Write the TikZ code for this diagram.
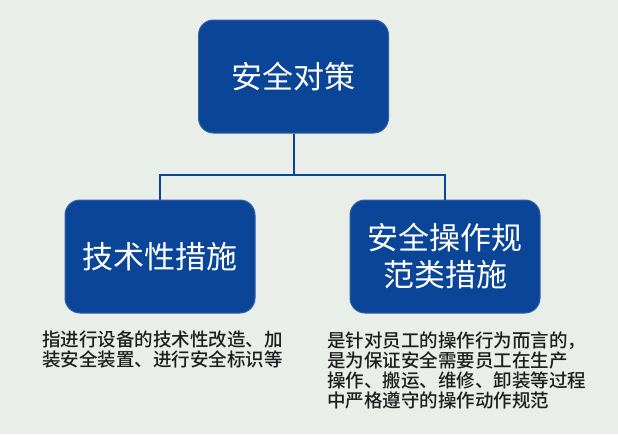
\documentclass[tikz,border=0pt]{standalone}
\usepackage{fontspec}
\newfontfamily\cjk{Noto Sans CJK SC}
\newfontfamily\cjkmed{Noto Sans CJK SC Medium}
\usepackage{xcolor}
\usetikzlibrary{positioning}

\definecolor{bgcol}{HTML}{E9EEE9}
\definecolor{boxcol}{HTML}{0B4597}
\definecolor{txtcol}{HTML}{1E1E1E}

\tikzset{
  box/.style={draw=boxcol!85!white, fill=boxcol, line width=1pt, rounded corners=15pt,
    minimum width=190pt, minimum height=113pt, align=center, text=white,
    font=\cjk\fontsize{31}{37}\selectfont},
  note/.style={anchor=north west, inner sep=0pt, align=left, text=txtcol,
    font=\cjkmed\fontsize{18.5}{20}\selectfont},
  link/.style={draw=boxcol, line width=2pt}
}

\begin{document}
\begin{tikzpicture}[x=1pt, y=-1pt]
    \fill[bgcol] (0,0) rectangle (618,434);
    \useasboundingbox (0,0) rectangle (618,434);

    \node[box] (top) at (293.5,76.5) {安全对策};
    \node[box] (tech) at (160,256.5) {技术性措施};
    \node[box] (rule) at (445,256.5) {安全操作规\\范类措施};

    \coordinate (split) at (293.5,175);

    \path[link]
    (top.south) -- (split)
    (split) -| (tech.north)
    (split) -| (rule.north);

    \node[note] (technote) at (42,331) {指进行设备的技术性改造、加\\装安全装置、进行安全标识等};
    \node[note] (rulenote) at (327,332) {是针对员工的操作行为而言的，\\是为保证安全需要员工在生产\\操作、搬运、维修、卸装等过程\\中严格遵守的操作动作规范};
\end{tikzpicture}
\end{document}
